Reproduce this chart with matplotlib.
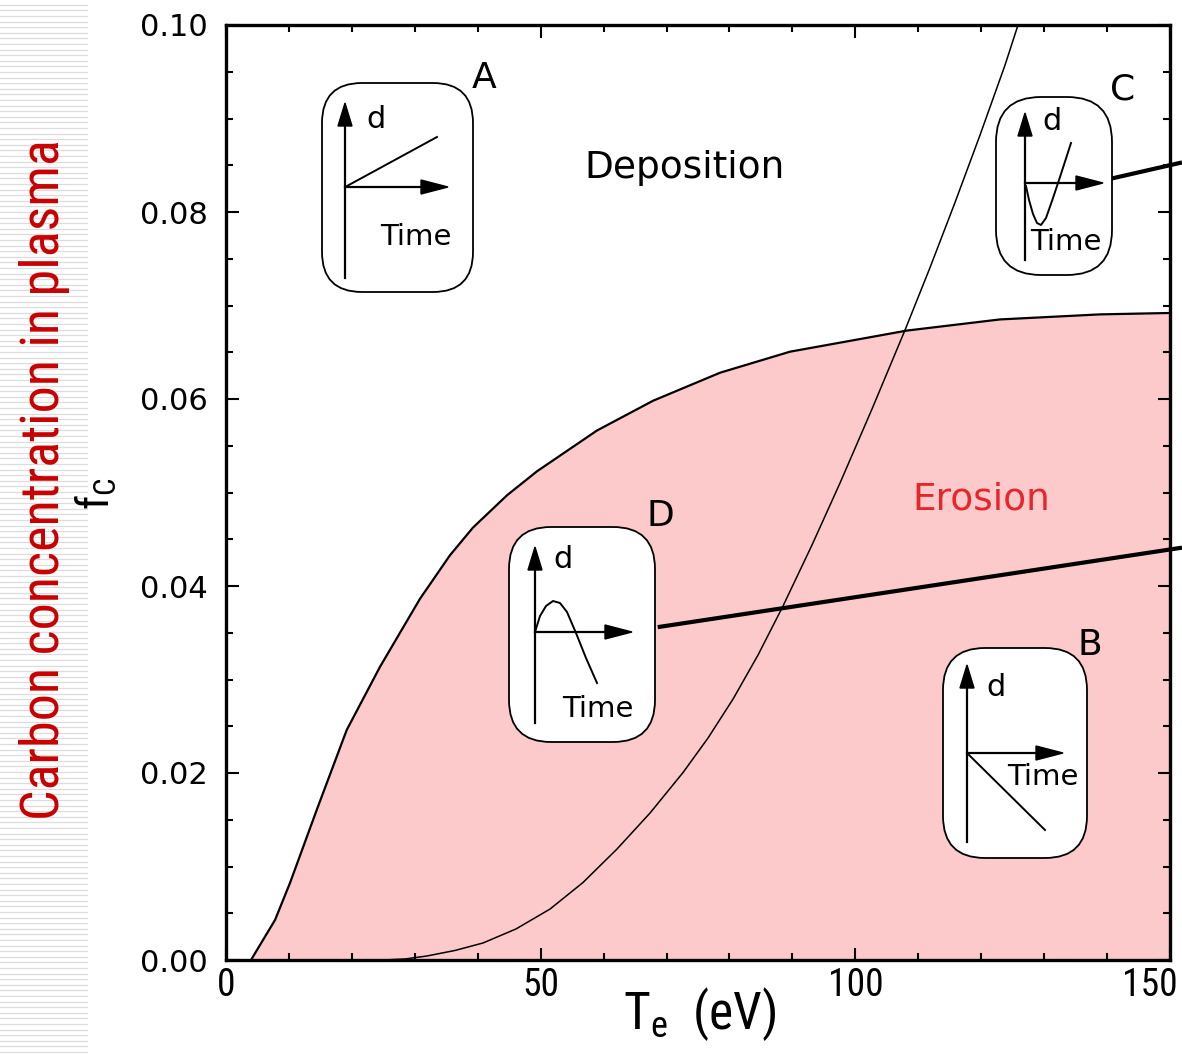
import matplotlib
matplotlib.use('Agg')
import numpy as np
import matplotlib.pyplot as plt
from matplotlib.patches import FancyBboxPatch, Polygon
from matplotlib.lines import Line2D
import matplotlib.transforms as mtransforms
from matplotlib.ticker import MultipleLocator

# ---------------- data ----------------
erosion_T = [3.97, 5.88, 7.79, 10.17, 14.41, 19.18, 24.48, 30.83, 35.59, 39.25, 44.65,
             49.42, 58.95, 67.85, 78.50, 89.62, 108.22, 122.99, 138.88, 150.0]
erosion_fc = [0.0, 0.00214, 0.00428, 0.00824, 0.01604, 0.0246, 0.03137, 0.03864,
              0.04329, 0.04625, 0.0497, 0.05227, 0.05663, 0.05981, 0.06281, 0.06506,
              0.06732, 0.06851, 0.06905, 0.0692]

deposition_T = [20.0, 24.95, 28.44, 31.94, 36.39, 40.84, 46.08, 51.49, 56.73, 62.13,
                67.38, 72.62, 76.59, 80.57, 84.54, 88.51, 93.12, 97.57, 102.65,
                107.90, 111.87, 115.84, 119.82, 123.79, 125.85]
deposition_fc = [0.0, 0.0, 0.00011, 0.00043, 0.00102, 0.00182, 0.00332, 0.00545,
                 0.00829, 0.01187, 0.01572, 0.02005, 0.02374, 0.02791, 0.03262,
                 0.03786, 0.04439, 0.05102, 0.05893, 0.06738, 0.07406, 0.08102,
                 0.08824, 0.09572, 0.1]

# connector lines (T, fc), running out past the right edge of the frame
connD_T = [68.6, 151.9]
connD_fc = [0.0356, 0.0441]
connC_T = [140.2, 151.9]
connC_fc = [0.0835, 0.0853]

x_ticks = [0, 50, 100, 150]
y_ticks = [0.00, 0.02, 0.04, 0.06, 0.08, 0.10]
y_ticklabels = ['0.00', '0.02', '0.04', '0.06', '0.08', '0.10']

# ---------------- figure ----------------
W, H, DPI = 1182, 1054, 100
fig = plt.figure(figsize=(W / DPI, H / DPI), dpi=DPI)
fig.patch.set_facecolor('white')

NARROW = ['Roboto Condensed', 'PT Sans Narrow', 'Archivo Narrow', 'DejaVu Sans']
WIDE = ['DejaVu Sans']

# striped slide background on the left
bg = fig.add_axes([0, 0, 88 / W, 1])
bg.set_xlim(0, 1)
bg.set_ylim(0, H)
bg.axis('off')
for yy in np.arange(2, H, 5.6):
    bg.axhline(yy, color='#dcdcdc', lw=0.9)

ax = fig.add_axes([226 / W, 1 - 960 / H, 944 / W, 935 / H])
ax.set_xlim(0, 150)
ax.set_ylim(0, 0.10)

ax.fill_between(erosion_T, 0, erosion_fc, color='#fccaca', lw=0, zorder=1)
ax.plot(erosion_T, erosion_fc, color='black', lw=1.6, zorder=3)
ax.plot(deposition_T, deposition_fc, color='black', lw=1.1, zorder=3)
ax.plot(connD_T, connD_fc, color='black', lw=3.0, zorder=4, clip_on=False,
        solid_capstyle='butt')
ax.plot(connC_T, connC_fc, color='black', lw=3.0, zorder=4, clip_on=False,
        solid_capstyle='butt')

ax.set_xticks(x_ticks)
ax.set_xticklabels([str(v) for v in x_ticks])
ax.set_yticks(y_ticks)
ax.set_yticklabels(y_ticklabels)
ax.xaxis.set_minor_locator(MultipleLocator(10))
ax.yaxis.set_minor_locator(MultipleLocator(0.005))
ax.tick_params(which='both', direction='in', top=True, right=True, width=1.5)
ax.tick_params(which='major', length=9)
ax.tick_params(which='minor', length=5)
ax.tick_params(axis='y', pad=13)
ax.tick_params(axis='x', pad=5)
for lab in ax.get_yticklabels():
    lab.set_fontfamily(WIDE)
    lab.set_fontsize(22)
xlabs = ax.get_xticklabels()
for lab in xlabs:
    lab.set_fontfamily(NARROW)
    lab.set_fontsize(27)
# last label sits slightly left so it stays inside the picture, as in the reference
shift = mtransforms.ScaledTranslation(-20 / DPI, 0, fig.dpi_scale_trans)
xlabs[-1].set_transform(xlabs[-1].get_transform() + shift)
for sp in ax.spines.values():
    sp.set_linewidth(2.4)
    sp.set_zorder(6)

ax.text(72.9, 0.0847, 'Deposition', fontsize=27, family=WIDE, ha='center', va='center', zorder=5)
ax.text(120.0, 0.0492, 'Erosion', fontsize=27, family=WIDE, color='#e6262b',
        ha='center', va='center', zorder=5)

# ---------------- schematic icons (reference pixel coords) ----------------
px = mtransforms.Affine2D().scale(1 / DPI, -1 / DPI).translate(0, H / DPI) + fig.dpi_scale_trans


def icon(box, r, vx, vtop, vbot, hy, htip, curve, dpos, tpos, label, lpos):
    x0, y0, x1, y1 = box
    p = FancyBboxPatch((x0, y0), x1 - x0, y1 - y0,
                       boxstyle='round,pad=0,rounding_size=%g' % r,
                       transform=px, facecolor='white', edgecolor='black',
                       lw=1.3, zorder=10)
    fig.add_artist(p)
    fig.add_artist(Line2D([vx, vx], [vbot, vtop + 18], transform=px, color='black', lw=1.6, zorder=11))
    fig.add_artist(Polygon([[vx, vtop], [vx - 7, vtop + 23], [vx + 7, vtop + 23]],
                           closed=True, transform=px, color='black', zorder=11))
    fig.add_artist(Line2D([vx, htip - 20], [hy, hy], transform=px, color='black', lw=1.6, zorder=11))
    fig.add_artist(Polygon([[htip, hy], [htip - 27, hy - 7], [htip - 27, hy + 7]],
                           closed=True, transform=px, color='black', zorder=11))
    cx = [c[0] for c in curve]
    cy = [c[1] for c in curve]
    fig.add_artist(Line2D(cx, cy, transform=px, color='black', lw=1.4, zorder=11))
    fig.text(dpos[0] / W, 1 - dpos[1] / H, 'd', fontsize=22, family=WIDE,
             ha='center', va='center', zorder=12)
    fig.text(tpos[0] / W, 1 - tpos[1] / H, 'Time', fontsize=21, family=WIDE,
             ha='center', va='center', zorder=12)
    fig.text(lpos[0] / W, 1 - lpos[1] / H, label, fontsize=26, family=WIDE,
             ha='center', va='center', zorder=12)


icon((322, 83, 473, 292), 40, 345, 103, 278, 187, 448,
     [(347, 186), (437, 137)], (376, 120), (416, 237), 'A', (484, 78))
icon((996, 97, 1112, 275), 45, 1025, 113, 260, 183, 1103,
     [(1026, 186), (1029, 200), (1033, 214), (1037, 223), (1041, 225), (1046, 218),
      (1052, 201), (1060, 177), (1071, 143)], (1052, 122), (1066, 242), 'C', (1123, 89))
icon((509, 527, 655, 742), 42, 535, 547, 723, 632, 632,
     [(535, 632), (540, 616), (546, 606), (553, 601), (560, 603), (567, 612),
      (576, 633), (586, 658), (597, 683)], (563, 559), (598, 709), 'D', (660, 516))
icon((943, 648, 1087, 858), 42, 967, 665, 842, 753, 1063,
     [(968, 754), (1045, 830)], (996, 688), (1043, 777), 'B', (1090, 645))

# ---------------- axis titles ----------------
fig.text(700 / W, 1 - 1014 / H, r'$\mathregular{T_e}$  (eV)', fontsize=37,
         family=NARROW, ha='center', va='center')
fig.text(96 / W, 1 - 494 / H, r'$\mathregular{f_C}$', fontsize=32, family=NARROW,
         rotation=90, ha='center', va='center')
fig.text(45 / W, 1 - 480 / H, 'Carbon concentration in plasma', fontsize=39,
         family=NARROW, color='#c80000', rotation=90, ha='center', va='center')

fig.savefig('out.png', dpi=DPI)
